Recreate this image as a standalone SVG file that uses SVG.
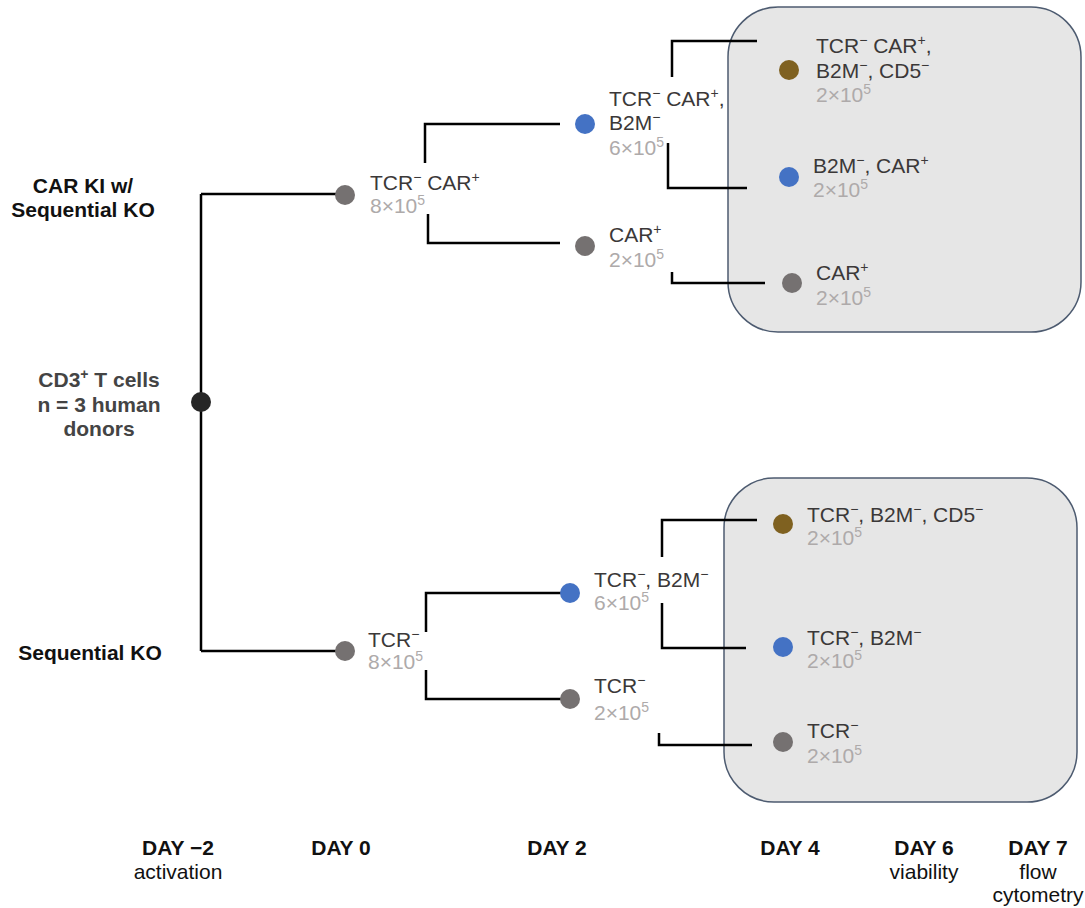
<svg xmlns="http://www.w3.org/2000/svg" width="1085" height="908" viewBox="0 0 1085 908">
<style>
text{font-family:"Liberation Sans",Arial,Helvetica,sans-serif}
.lab{font-size:21px;fill:#3b3838}
.num{font-size:21px;fill:#aeaaaa}
.s{font-size:14px;baseline-shift:super}
.hd{font-weight:bold;font-size:21px;fill:#111;text-anchor:middle}
.hg{fill:#444}
.day{font-weight:bold;font-size:21px;fill:#111;text-anchor:middle}
.sub{font-size:21px;fill:#111;text-anchor:middle}
.box{fill:#e6e6e6;stroke:#4d5b70;stroke-width:1.5}
.ln{fill:none;stroke:#000;stroke-width:2.5}
.g{fill:#757171}
.b{fill:#4472c4}
.br{fill:#7f6120}
.k{fill:#262626}
</style>
<rect class="box" x="728" y="7" width="353" height="325" rx="50" ry="50"/>
<rect class="box" x="724" y="478" width="353" height="324" rx="50" ry="50"/>
<g id="connectors">
<path class="ln" d="M201,194 V651 M201,194 H345 M201,651 H345"/>
<path class="ln" d="M560,124 H425 V163 M428,214 V243 H560"/>
<path class="ln" d="M757,41 H672 V77 M668,143 V188 H747"/>
<path class="ln" d="M672,272 V283 H765"/>
<path class="ln" d="M562,593 H426 V632 M426,670 V699 H562"/>
<path class="ln" d="M757,520 H662 V557 M662,603 V648 H746"/>
<path class="ln" d="M659,733 V745 H752"/>
</g>
<g id="root"><circle class="k" cx="201" cy="402" r="10"/>
<text class="hd hg" x="99" y="387">CD3<tspan class="s">+</tspan> T cells</text>
<text class="hd hg" x="99" y="412">n = 3 human</text>
<text class="hd hg" x="99" y="436">donors</text></g>
<g id="label-car"><text class="hd" x="83" y="193">CAR KI w/</text><text class="hd" x="83" y="217">Sequential KO</text></g>
<g id="label-ko"><text class="hd" x="90" y="660">Sequential KO</text></g>
<g id="t-d0"><circle class="g" cx="345" cy="195" r="10"/>
<text class="lab" x="370" y="190">TCR<tspan class="s">−</tspan> CAR<tspan class="s">+</tspan></text>
<text class="num" x="370" y="213">8×10<tspan class="s">5</tspan></text></g>
<g id="t-d2a"><circle class="b" cx="585" cy="124" r="10"/>
<text class="lab" x="609" y="106">TCR<tspan class="s">−</tspan> CAR<tspan class="s">+</tspan>,</text>
<text class="lab" x="609" y="130">B2M<tspan class="s">−</tspan></text>
<text class="num" x="609" y="155">6×10<tspan class="s">5</tspan></text></g>
<g id="t-d2b"><circle class="g" cx="585" cy="246" r="10"/>
<text class="lab" x="609" y="242">CAR<tspan class="s">+</tspan></text>
<text class="num" x="609" y="267">2×10<tspan class="s">5</tspan></text></g>
<g id="t-d4a"><circle class="br" cx="789" cy="70" r="10"/>
<text class="lab" x="816" y="53">TCR<tspan class="s">−</tspan> CAR<tspan class="s">+</tspan>,</text>
<text class="lab" x="816" y="78">B2M<tspan class="s">−</tspan>, CD5<tspan class="s">−</tspan></text>
<text class="num" x="816" y="102">2×10<tspan class="s">5</tspan></text></g>
<g id="t-d4b"><circle class="b" cx="789" cy="177" r="10"/>
<text class="lab" x="813" y="173">B2M<tspan class="s">−</tspan>, CAR<tspan class="s">+</tspan></text>
<text class="num" x="813" y="197">2×10<tspan class="s">5</tspan></text></g>
<g id="t-d4c"><circle class="g" cx="792" cy="283" r="10"/>
<text class="lab" x="816" y="280">CAR<tspan class="s">+</tspan></text>
<text class="num" x="816" y="305">2×10<tspan class="s">5</tspan></text></g>
<g id="b-d0"><circle class="g" cx="345" cy="651" r="10"/>
<text class="lab" x="368" y="647">TCR<tspan class="s">−</tspan></text>
<text class="num" x="368" y="669">8×10<tspan class="s">5</tspan></text></g>
<g id="b-d2a"><circle class="b" cx="570" cy="593" r="10"/>
<text class="lab" x="594" y="587">TCR<tspan class="s">−</tspan>, B2M<tspan class="s">−</tspan></text>
<text class="num" x="594" y="610">6×10<tspan class="s">5</tspan></text></g>
<g id="b-d2b"><circle class="g" cx="570" cy="699" r="10"/>
<text class="lab" x="594" y="693">TCR<tspan class="s">−</tspan></text>
<text class="num" x="594" y="720">2×10<tspan class="s">5</tspan></text></g>
<g id="b-d4a"><circle class="br" cx="783" cy="524" r="10"/>
<text class="lab" x="807" y="522">TCR<tspan class="s">−</tspan>, B2M<tspan class="s">−</tspan>, CD5<tspan class="s">−</tspan></text>
<text class="num" x="807" y="545">2×10<tspan class="s">5</tspan></text></g>
<g id="b-d4b"><circle class="b" cx="783" cy="647" r="10"/>
<text class="lab" x="807" y="645">TCR<tspan class="s">−</tspan>, B2M<tspan class="s">−</tspan></text>
<text class="num" x="807" y="668">2×10<tspan class="s">5</tspan></text></g>
<g id="b-d4c"><circle class="g" cx="783" cy="742" r="10"/>
<text class="lab" x="807" y="738">TCR<tspan class="s">−</tspan></text>
<text class="num" x="807" y="763">2×10<tspan class="s">5</tspan></text></g>
<g id="timeline">
<text class="day" x="178" y="855">DAY −2</text><text class="sub" x="178" y="879">activation</text>
<text class="day" x="341" y="855">DAY 0</text>
<text class="day" x="557" y="855">DAY 2</text>
<text class="day" x="790" y="855">DAY 4</text>
<text class="day" x="924" y="855">DAY 6</text><text class="sub" x="924" y="879">viability</text>
<text class="day" x="1038" y="855">DAY 7</text><text class="sub" x="1038" y="879">flow</text><text class="sub" x="1038" y="902">cytometry</text>
</g>
</svg>
